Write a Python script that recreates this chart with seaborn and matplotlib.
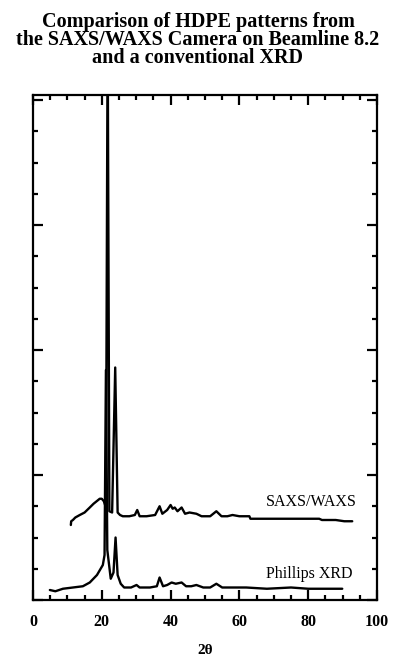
import matplotlib
matplotlib.use("Agg")
import matplotlib.pyplot as plt
import numpy as np
import pandas as pd
import seaborn as sns
from matplotlib.ticker import MultipleLocator

# SAXS/WAXS camera pattern (2theta, offset intensity)
saxs_x = [11.0, 11.1, 11.6, 12.3, 13.6, 15.0, 16.5, 17.6, 18.5, 19.4, 20.0, 20.6, 21.2,
          21.7, 22.2, 23.0, 23.9, 24.6, 25.3, 26.1, 28.0, 29.6, 30.3, 31.0, 33.0,
          35.5, 36.8, 37.6, 39.0, 40.0, 40.6, 41.2, 42.0, 43.2, 44.2, 45.5, 47.5,
          49.0, 51.5, 53.3, 54.8, 56.5, 58.0, 60.0, 62.9, 63.2, 70.0, 76.0, 83.2,
          84.0, 88.0, 90.5, 92.8]
saxs_y = [0.60, 0.63, 0.64, 0.66, 0.68, 0.70, 0.74, 0.77, 0.79, 0.81, 0.81, 0.79, 0.74,
          4.60, 0.71, 0.70, 1.86, 0.70, 0.68, 0.67, 0.67, 0.68, 0.72, 0.67, 0.67,
          0.68, 0.75, 0.69, 0.72, 0.76, 0.73, 0.74, 0.71, 0.74, 0.69, 0.70, 0.69,
          0.67, 0.67, 0.71, 0.67, 0.67, 0.68, 0.67, 0.67, 0.65, 0.65, 0.65, 0.65,
          0.64, 0.64, 0.63, 0.63]

# Phillips XRD pattern
xrd_x = [4.9, 6.5, 8.7, 11.6, 14.5, 16.5, 18.6, 20.3, 20.8, 21.2, 21.6, 22.6, 23.4,
         24.0, 24.6, 25.5, 26.5, 28.5, 30.1, 31.0, 34.0, 36.0, 36.8, 37.8, 39.0,
         40.3, 41.5, 43.2, 44.5, 46.0, 47.5, 49.5, 51.5, 53.3, 55.0, 58.0, 62.0,
         68.0, 75.0, 80.0, 85.0, 89.9]
xrd_y = [0.08, 0.07, 0.09, 0.10, 0.11, 0.14, 0.20, 0.28, 0.36, 1.84, 0.40, 0.17, 0.22,
         0.50, 0.20, 0.13, 0.10, 0.10, 0.12, 0.10, 0.10, 0.11, 0.18, 0.11, 0.12,
         0.14, 0.13, 0.14, 0.11, 0.11, 0.12, 0.10, 0.10, 0.13, 0.10, 0.10, 0.10,
         0.09, 0.10, 0.09, 0.09, 0.09]

x_ticks = [0, 20, 40, 60, 80, 100]
title = "Comparison of HDPE patterns from\nthe SAXS/WAXS Camera on Beamline 8.2\nand a conventional XRD"

sns.set_theme(style="ticks")
plt.rcParams["font.family"] = ["Liberation Serif", "DejaVu Serif"]
plt.rcParams["text.color"] = "black"
plt.rcParams["axes.labelcolor"] = "black"
plt.rcParams["xtick.color"] = "black"
plt.rcParams["ytick.color"] = "black"

fig = plt.figure(figsize=(3.96, 6.59), dpi=100)
ax = fig.add_axes([33 / 396, 1 - 600 / 659, 344 / 396, 505 / 659])

df_saxs = pd.DataFrame({"two_theta": saxs_x, "intensity": saxs_y})
df_xrd = pd.DataFrame({"two_theta": xrd_x, "intensity": xrd_y})
sns.lineplot(data=df_saxs, x="two_theta", y="intensity", ax=ax, color="black",
             lw=1.7, estimator=None, sort=False)
sns.lineplot(data=df_xrd, x="two_theta", y="intensity", ax=ax, color="black",
             lw=1.7, estimator=None, sort=False)

ax.set_xlim(0, 100)
ax.set_ylim(0, 4.04)
ax.set_xticks(x_ticks)
ax.xaxis.set_minor_locator(MultipleLocator(5))
ax.yaxis.set_major_locator(MultipleLocator(1))
ax.yaxis.set_minor_locator(MultipleLocator(0.25))
ax.set_yticklabels([])
ax.tick_params(which="both", direction="in", top=True, right=True, width=1.6, color="black")
ax.tick_params(which="major", length=7)
ax.tick_params(which="minor", length=3.5)
ax.tick_params(axis="x", which="major", pad=10, labelsize=11.5)
for lab in ax.get_xticklabels():
    lab.set_fontweight("bold")
for s in ax.spines.values():
    s.set_linewidth(1.6)
    s.set_color("black")

ax.set_xlabel("2θ", fontsize=11, fontweight="bold", labelpad=10)
ax.set_ylabel("")

ax.text(94.2, 0.72, "SAXS/WAXS", ha="right", va="bottom", fontsize=11.5)
ax.text(93.0, 0.14, "Phillips XRD", ha="right", va="bottom", fontsize=11.5)

fig.text(0.5, 1 - 12 / 659, title, ha="center", va="top", fontsize=14.5,
         fontweight="bold", linespacing=0.88)

fig.savefig("out.png", dpi=100)
